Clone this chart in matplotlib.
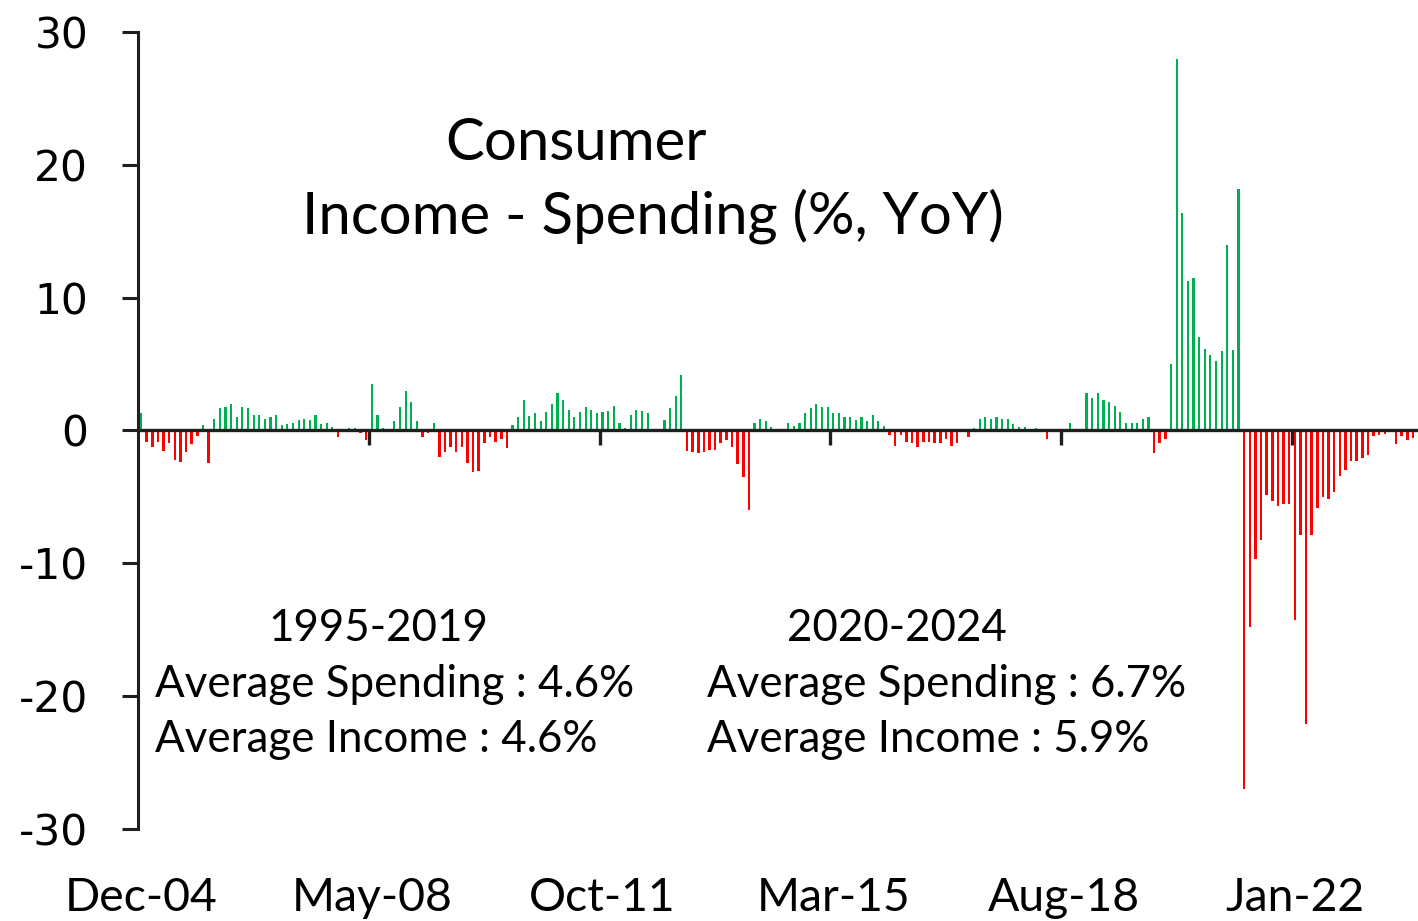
import matplotlib
matplotlib.use("Agg")
import matplotlib.pyplot as plt
import matplotlib.transforms as mtransforms
import numpy as np
import pandas as pd

# ---------------- data ----------------
months = pd.date_range("2004-12-01", periods=227, freq="MS")

gap = [
    1.3, -0.85, -1.23, -0.85, -1.53, -0.93, -2.2, -2.36, -1.6, -1.0,
    -0.4, 0.38, -2.43, 0.85, 1.66, 1.8, 1.98, 1.0, 1.8, 1.66,
    1.18, 1.18, 0.85, 0.98, 1.18, 0.38, 0.48, 0.55, 0.78, 0.85,
    0.78, 1.18, 0.48, 0.55, 0.3, -0.48, 0.0, 0.18, 0.18, -0.18,
    -0.7, 3.49, 1.2, 0.18, 0.0, 0.68, 1.8, 2.99, 2.18, 0.68,
    -0.48, -0.18, 0.58, -1.98, -1.6, -1.23, -1.6, -1.23, -2.43, -3.1,
    -3.04, -0.93, -0.48, -0.85, -0.63, -1.3, 0.38, 1.0, 2.28, 1.08,
    1.3, 0.68, 1.38, 1.98, 2.81, 2.28, 1.58, 1.0, 1.38, 1.8,
    1.57, 1.3, 1.38, 1.5, 1.88, 0.55, 0.18, 1.18, 1.56, 1.5,
    1.3, 0.0, 0.0, 0.78, 1.68, 2.58, 4.17, -1.53, -1.63, -1.7,
    -1.6, -1.48, -1.48, -0.93, -0.73, -1.23, -2.53, -3.51, -5.97, 0.55,
    0.85, 0.68, 0.3, 0.15, 0.15, 0.55, 0.35, 0.55, 1.3, 1.68,
    1.98, 1.8, 1.8, 1.3, 1.28, 1.05, 1.05, 0.78, 0.98, 0.75,
    1.18, 0.68, 0.35, -0.35, -1.15, -0.35, -0.88, -0.93, -1.23, -0.88,
    -0.88, -0.93, -0.93, -0.65, -1.15, -0.93, 0.0, -0.48, 0.18, 0.85,
    1.0, 0.85, 1.0, 0.85, 0.85, 0.48, 0.3, 0.3, 0.0, 0.18,
    0.0, -0.63, 0.0, 0.0, 0.12, 0.53, 0.0, 0.0, 2.79, 2.46,
    2.79, 2.33, 2.16, 1.86, 1.36, 0.53, 0.53, 0.53, 0.83, 1.03,
    -1.71, -0.95, -0.65, 4.97, 27.98, 16.39, 11.24, 11.47, 7.05, 6.15,
    5.65, 5.22, 5.95, 14.0, 6.05, 18.19, -27.0, -14.83, -9.71, -8.28,
    -4.82, -5.27, -5.72, -5.5, -5.5, -14.3, -7.9, -22.06, -7.9, -5.8,
    -4.97, -5.12, -4.6, -3.46, -2.94, -2.33, -2.33, -2.1, -1.88, -0.45,
    -0.35, -0.3, 0.0, -0.98, -0.45, -0.68, -0.6,
]

tick_labels = ["Dec-04", "May-08", "Oct-11", "Mar-15", "Aug-18", "Jan-22"]
y_ticks = [-30, -20, -10, 0, 10, 20, 30]
title_lines = ["Consumer", "Income - Spending (%, YoY)"]
periods = ["1995-2019", "2020-2024"]
avg_spending = [4.6, 6.7]
avg_income = [4.6, 5.9]

# ---------------- figure ----------------
W, H = 1418, 921
fig = plt.figure(figsize=(W / 100, H / 100), dpi=100)
fig.patch.set_facecolor("white")

def fx(px):
    return px / W

def fy(px):
    return 1 - px / H

ax_left, ax_top, ax_bottom = 138.25, 32, 829
ax = fig.add_axes([fx(ax_left), fy(ax_bottom), (W - ax_left) / W, (ax_bottom - ax_top) / H])

vals = np.array(gap)
x = np.arange(len(vals))
pos = vals > 0
neg = vals < 0
ax.bar(x[pos], vals[pos], width=0.38, color="#00B050", zorder=2)
ax.bar(x[neg], vals[neg], width=0.45, color="#FF0000", zorder=2)

px_per_cat = 5.628
ax.set_xlim(-0.5, -0.5 + (W - ax_left) / px_per_cat)
ax.set_ylim(-30, 30)

dark = "#1f1f1f"
for s in ["top", "right"]:
    ax.spines[s].set_visible(False)
ax.spines["left"].set_linewidth(2.2)
ax.spines["left"].set_color(dark)
ax.spines["bottom"].set_position(("data", 0))
ax.spines["bottom"].set_linewidth(2.4)
ax.spines["bottom"].set_color(dark)
ax.spines["bottom"].set_zorder(3)

# y axis
ax.set_yticks(y_ticks)
ax.set_yticklabels([str(v) for v in y_ticks])
ax.tick_params(axis="y", direction="out", length=11.5, width=2.2, color=dark,
               pad=24.5, labelsize=30.5, labelcolor="black")
for lab in ax.get_yticklabels():
    lab.set_family("DejaVu Sans")

# x axis: tick marks at category boundaries on the zero line
labels_str = list(months.strftime("%b-%y"))
label_idx = [labels_str.index(t) for t in tick_labels]
boundaries = [i - 0.5 for i in label_idx[1:]]
ax.set_xticks(boundaries)
ax.tick_params(axis="x", direction="out", length=11, width=2.4, color=dark,
               labelbottom=False)

renderer = fig.canvas.get_renderer()

def fit(texts, target_px):
    w = texts[0].get_window_extent(renderer).width
    size = texts[0].get_fontsize() * target_px / w
    for t in texts:
        t.set_fontsize(size)

FONT = "Lato"

# x labels below the plot
trans = mtransforms.blended_transform_factory(ax.transData, fig.transFigure)
xl = []
for i, t in zip(label_idx, tick_labels):
    xl.append(ax.text(i, fy(911), t, transform=trans, ha="center", va="baseline",
                      family=FONT, fontsize=36, color="black", clip_on=False))
fit(xl, 153)

# title
t1 = fig.text(fx(576.5), fy(160), title_lines[0], ha="center", va="baseline",
              family=FONT, fontsize=40, color="black")
t2 = fig.text(fx(653), fy(234), title_lines[1], ha="center", va="baseline",
              family=FONT, fontsize=40, color="black")
fit([t2, t1], 702)

# annotations
ann = []
ann.append(fig.text(fx(155), fy(697), f"Average Spending : {avg_spending[0]}%",
                    ha="left", va="baseline", family=FONT, fontsize=30))
ann.append(fig.text(fx(155), fy(752), f"Average Income : {avg_income[0]}%",
                    ha="left", va="baseline", family=FONT, fontsize=30))
ann.append(fig.text(fx(707), fy(697), f"Average Spending : {avg_spending[1]}%",
                    ha="left", va="baseline", family=FONT, fontsize=30))
ann.append(fig.text(fx(707), fy(752), f"Average Income : {avg_income[1]}%",
                    ha="left", va="baseline", family=FONT, fontsize=30))
ann.append(fig.text(fx(378.5), fy(641), periods[0], ha="center", va="baseline",
                    family=FONT, fontsize=30))
ann.append(fig.text(fx(896.5), fy(641), periods[1], ha="center", va="baseline",
                    family=FONT, fontsize=30))
fit(ann, 478)

fig.savefig("out.png", dpi=100, facecolor="white")
